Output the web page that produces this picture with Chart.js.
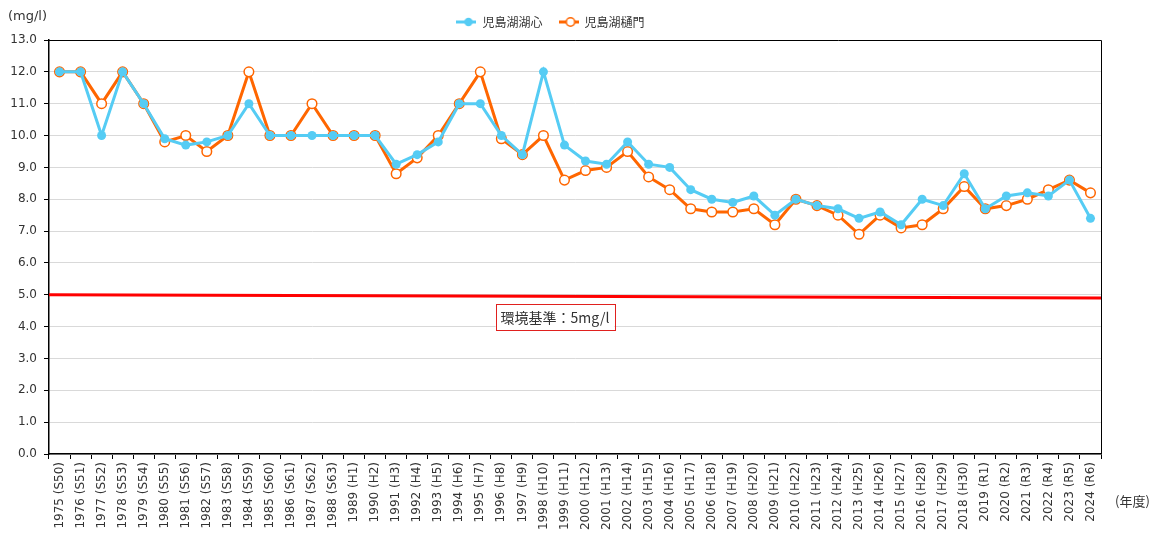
<!DOCTYPE html>
<html>
<head>
<meta charset="utf-8">
<script src="https://cdn.jsdelivr.net/npm/chart.js@4/dist/chart.umd.min.js"></script>
<style>
  html, body { margin: 0; padding: 0; background: #fff; }
  #wrap { width: 1158px; height: 538px; }
</style>
</head>
<body>
<div id="wrap"><canvas id="chart" width="1158" height="538"></canvas></div>
<script>
const years = [1975,1976,1977,1978,1979,1980,1981,1982,1983,1984,1985,1986,1987,1988,1989,1990,1991,1992,1993,1994,1995,1996,1997,1998,1999,2000,2001,2002,2003,2004,2005,2006,2007,2008,2009,2010,2011,2012,2013,2014,2015,2016,2017,2018,2019,2020,2021,2022,2023,2024];
const eras = ['S50','S51','S52','S53','S54','S55','S56','S57','S58','S59','S60','S61','S62','S63','H1','H2','H3','H4','H5','H6','H7','H8','H9','H10','H11','H12','H13','H14','H15','H16','H17','H18','H19','H20','H21','H22','H23','H24','H25','H26','H27','H28','H29','H30','R1','R2','R3','R4','R5','R6'];

// 児島湖湖心
const lakeCenter = [12.0,12.0,10.0,12.0,11.0,9.9,9.7,9.8,10.0,11.0,10.0,10.0,10.0,10.0,10.0,10.0,9.1,9.4,9.8,11.0,11.0,10.0,9.4,12.0,9.7,9.2,9.1,9.8,9.1,9.0,8.3,8.0,7.9,8.1,7.5,8.0,7.8,7.7,7.4,7.6,7.2,8.0,7.8,8.8,7.7,8.1,8.2,8.1,8.6,7.4];
// 児島湖樋門
const lakeGate = [12.0,12.0,11.0,12.0,11.0,9.8,10.0,9.5,10.0,12.0,10.0,10.0,11.0,10.0,10.0,10.0,8.8,9.3,10.0,11.0,12.0,9.9,9.4,10.0,8.6,8.9,9.0,9.5,8.7,8.3,7.7,7.6,7.6,7.7,7.2,8.0,7.8,7.5,6.9,7.5,7.1,7.2,7.7,8.4,7.7,7.8,8.0,8.3,8.6,8.2];

const seriesNames = ['児島湖湖心', '児島湖樋門'];
const yTicks = [0, 13, 1];           // min, max, step
const standardStart = 5.0;           // 環境基準 line (left end)
const standardEnd = 4.9;             // right end, drawn slightly sloped as in the source
const standardLabel = '環境基準：5mg/l';
const standardLabelAt = [23.55, 4.3]; // category index, value
const yUnit = '(mg/l)';
const xUnit = '(年度)';

const labels = years.map((y, i) => `${y} (${eras[i]})`);

const CYAN = '#55CCF4';
const ORANGE = '#FF6600';
const LATIN = '"DejaVu Sans", Verdana, sans-serif';
const CJK = '"Noto Sans CJK JP", "DejaVu Sans", sans-serif';

function legendIcon(color, filled) {
  const c = document.createElement('canvas');
  c.width = 20; c.height = 12;
  const ctx = c.getContext('2d');
  ctx.strokeStyle = color;
  ctx.lineWidth = 3;
  ctx.beginPath(); ctx.moveTo(0, 6); ctx.lineTo(20, 6); ctx.stroke();
  ctx.beginPath(); ctx.arc(12, 6, 4.2, 0, Math.PI * 2);
  ctx.fillStyle = filled ? color : '#fff';
  ctx.fill();
  if (!filled) { ctx.lineWidth = 1.5; ctx.stroke(); }
  return c;
}
const icons = [legendIcon(CYAN, true), legendIcon(ORANGE, false)];

const extras = {
  id: 'extras',
  beforeLayout(chart) {
    const lg = chart.legend;
    if (lg && !lg._fixed) {
      const fit = lg.fit;
      lg.fit = function () { fit.call(this); this.height = 40; };
      lg._fixed = true;
    }
  },
  afterDraw(chart) {
    const { ctx, chartArea: a, scales: { x, y } } = chart;
    ctx.save();
    // box top/right border
    ctx.strokeStyle = '#000';
    ctx.lineWidth = 1;
    ctx.beginPath();
    ctx.moveTo(a.left, a.top + 0.5);
    ctx.lineTo(a.right + 0.5, a.top + 0.5);
    ctx.lineTo(a.right + 0.5, a.bottom);
    ctx.stroke();

    // environmental standard line
    ctx.strokeStyle = '#FF0000';
    ctx.lineWidth = 3;
    ctx.beginPath();
    ctx.moveTo(a.left, y.getPixelForValue(standardStart));
    ctx.lineTo(a.right, y.getPixelForValue(standardEnd));
    ctx.stroke();

    // label box
    ctx.font = '14px ' + CJK;
    const tw = ctx.measureText(standardLabel).width;
    const cx = x.getPixelForValue(standardLabelAt[0]);
    const cy = y.getPixelForValue(standardLabelAt[1]);
    const bw = tw + 10, bh = 26;
    ctx.fillStyle = '#fff';
    ctx.fillRect(cx - bw / 2, cy - bh / 2, bw, bh);
    ctx.strokeStyle = '#E0201E';
    ctx.lineWidth = 1;
    ctx.strokeRect(Math.round(cx - bw / 2) + 0.5, Math.round(cy - bh / 2) + 0.5, Math.round(bw), bh);
    ctx.fillStyle = '#333';
    ctx.textAlign = 'center';
    ctx.textBaseline = 'middle';
    ctx.fillText(standardLabel, cx, cy + 1);

    // units
    ctx.font = '13px ' + LATIN;
    ctx.textAlign = 'left';
    ctx.fillText(yUnit, 8, 17);
    ctx.font = '13px ' + CJK;
    ctx.fillText(xUnit, a.right + 14, 501);
    ctx.restore();
  }
};

new Chart(document.getElementById('chart'), {
  type: 'line',
  data: {
    labels,
    datasets: [
      {
        label: seriesNames[0],
        data: lakeCenter,
        borderColor: CYAN,
        backgroundColor: CYAN,
        borderWidth: 3,
        pointRadius: 4.5,
        pointBorderWidth: 0,
        pointBackgroundColor: CYAN,
        tension: 0
      },
      {
        label: seriesNames[1],
        data: lakeGate,
        borderColor: ORANGE,
        backgroundColor: '#fff',
        borderWidth: 3,
        pointRadius: 4.8,
        pointBorderWidth: 1.5,
        pointBorderColor: ORANGE,
        pointBackgroundColor: '#fff',
        tension: 0
      }
    ]
  },
  options: {
    responsive: false,
    animation: false,
    layout: { padding: { left: 0, right: 57, top: 0, bottom: 0 } },
    plugins: {
      tooltip: { enabled: false },
      legend: {
        position: 'top',
        labels: {
          usePointStyle: true,
          pointStyleWidth: 20,
          padding: 16,
          color: '#333',
          font: { family: CJK, size: 12 },
          generateLabels: (chart) => chart.data.datasets.map((ds, i) => ({
            text: ds.label,
            pointStyle: icons[i],
            fillStyle: ds.borderColor,
            strokeStyle: ds.borderColor,
            lineWidth: 0,
            hidden: false,
            datasetIndex: i,
            fontColor: '#333'
          }))
        }
      }
    },
    scales: {
      x: {
        offset: true,
        afterFit: (s) => { s.height = 84; },
        grid: {
          offset: true,
          drawOnChartArea: false,
          drawTicks: true,
          tickLength: 5,
          tickColor: '#000'
        },
        border: { color: '#000', width: 1.5 },
        ticks: {
          autoSkip: false,
          minRotation: 90,
          maxRotation: 90,
          padding: 3,
          color: '#333',
          font: { family: LATIN, size: 12 }
        }
      },
      y: {
        min: yTicks[0],
        max: yTicks[1],
        afterFit: (s) => { s.width = 49; },
        grid: {
          color: '#D9D9D9',
          lineWidth: 1,
          tickColor: '#000',
          tickLength: 5
        },
        border: { color: '#000', width: 1.5 },
        ticks: {
          stepSize: yTicks[2],
          padding: 7,
          color: '#333',
          font: { family: LATIN, size: 12 },
          callback: (v) => Number(v).toFixed(1)
        }
      }
    }
  },
  plugins: [extras]
});
</script>
</body>
</html>
